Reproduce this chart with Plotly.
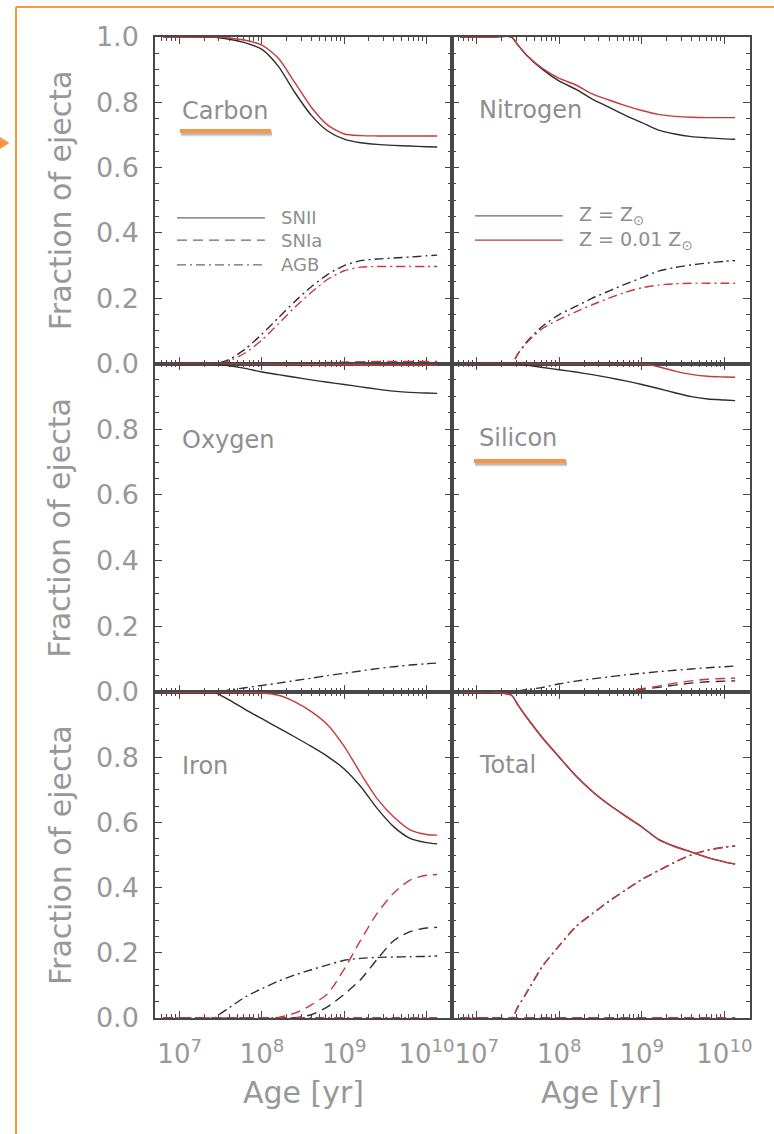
import math
import plotly.graph_objects as go

W, H = 774, 1134

# log10 of stellar population age [yr]
LOG_AGE = [6.8, 7.0, 7.2, 7.42, 7.5, 7.6, 7.8, 8.0, 8.2, 8.4, 8.6, 8.8,
           9.0, 9.2, 9.4, 9.6, 9.8, 10.0, 10.13]

# Fraction of ejecta per channel; "solar" = Z = Zsun, "low" = Z = 0.01 Zsun
carbon_snii_solar = [1.0, 1.0, 1.0, 0.999, 0.997, 0.993, 0.982, 0.962, 0.91, 0.83, 0.76, 0.712, 0.687, 0.676, 0.671, 0.668, 0.666, 0.664, 0.663]
carbon_snii_low = [1.0, 1.0, 1.0, 1.0, 0.999, 0.997, 0.99, 0.975, 0.935, 0.86, 0.785, 0.73, 0.703, 0.698, 0.697, 0.697, 0.697, 0.697, 0.697]
carbon_agb_solar = [0.0, 0.0, 0.0, 0.0, 0.003, 0.012, 0.045, 0.09, 0.14, 0.19, 0.235, 0.273, 0.3, 0.315, 0.32, 0.323, 0.326, 0.33, 0.332]
carbon_agb_low = [0.0, 0.0, 0.0, 0.0, 0.0, 0.008, 0.033, 0.072, 0.122, 0.172, 0.218, 0.258, 0.284, 0.295, 0.297, 0.297, 0.297, 0.297, 0.297]
carbon_snia_solar = [0.0, 0.0, 0.0, 0.0, 0.0, 0.0, 0.0, 0.0, 0.0, 0.0, 0.001, 0.002, 0.003, 0.004, 0.004, 0.005, 0.005, 0.005, 0.005]
carbon_snia_low = [0.0, 0.0, 0.0, 0.0, 0.0, 0.0, 0.0, 0.0, 0.0, 0.001, 0.002, 0.003, 0.004, 0.005, 0.006, 0.006, 0.006, 0.006, 0.006]

nitrogen_snii_solar = [1.0, 1.0, 1.0, 1.0, 0.975, 0.945, 0.9, 0.865, 0.84, 0.81, 0.785, 0.76, 0.738, 0.715, 0.703, 0.695, 0.691, 0.688, 0.687]
nitrogen_snii_low = [1.0, 1.0, 1.0, 1.0, 0.975, 0.946, 0.903, 0.873, 0.853, 0.826, 0.807, 0.79, 0.775, 0.763, 0.757, 0.754, 0.753, 0.753, 0.753]
nitrogen_agb_solar = [0.0, 0.0, 0.0, 0.0, 0.03, 0.065, 0.115, 0.15, 0.175, 0.2, 0.222, 0.243, 0.263, 0.283, 0.294, 0.302, 0.308, 0.313, 0.315]
nitrogen_agb_low = [0.0, 0.0, 0.0, 0.0, 0.03, 0.062, 0.108, 0.135, 0.158, 0.18, 0.2, 0.218, 0.232, 0.24, 0.244, 0.246, 0.246, 0.246, 0.246]
nitrogen_snia_solar = [0.0, 0.0, 0.0, 0.0, 0.0, 0.0, 0.0, 0.0, 0.0, 0.0, 0.0, 0.0, 0.001, 0.001, 0.001, 0.001, 0.001, 0.001, 0.001]
nitrogen_snia_low = [0.0, 0.0, 0.0, 0.0, 0.0, 0.0, 0.0, 0.0, 0.0, 0.0, 0.0, 0.001, 0.001, 0.001, 0.001, 0.001, 0.001, 0.001, 0.001]

oxygen_snii_solar = [1.0, 1.0, 1.0, 1.0, 0.997, 0.993, 0.985, 0.974, 0.966, 0.958, 0.95, 0.943, 0.936, 0.929, 0.922, 0.916, 0.912, 0.91, 0.909]
oxygen_snii_low = [1.0, 1.0, 1.0, 1.0, 1.0, 1.0, 0.999, 0.999, 0.998, 0.998, 0.997, 0.997, 0.996, 0.996, 0.995, 0.995, 0.995, 0.995, 0.995]
oxygen_agb_solar = [0.0, 0.0, 0.0, 0.0, 0.002, 0.006, 0.013, 0.02, 0.027, 0.035, 0.042, 0.05, 0.057, 0.064, 0.071, 0.077, 0.082, 0.086, 0.088]
oxygen_agb_low = [0.0, 0.0, 0.0, 0.0, 0.0, 0.001, 0.001, 0.001, 0.002, 0.002, 0.002, 0.002, 0.002, 0.002, 0.002, 0.002, 0.002, 0.002, 0.002]
oxygen_snia_solar = [0.0, 0.0, 0.0, 0.0, 0.0, 0.0, 0.0, 0.0, 0.0, 0.0, 0.0, 0.001, 0.001, 0.002, 0.002, 0.003, 0.003, 0.003, 0.003]
oxygen_snia_low = [0.0, 0.0, 0.0, 0.0, 0.0, 0.0, 0.0, 0.0, 0.0, 0.0, 0.001, 0.001, 0.002, 0.002, 0.003, 0.003, 0.003, 0.003, 0.003]

silicon_snii_solar = [1.0, 1.0, 1.0, 1.0, 0.998, 0.995, 0.988, 0.981, 0.974, 0.966, 0.957, 0.947, 0.936, 0.924, 0.911, 0.899, 0.892, 0.889, 0.887]
silicon_snii_low = [1.0, 1.0, 1.0, 1.0, 1.0, 1.0, 1.0, 1.0, 1.0, 1.0, 1.0, 1.0, 0.999, 0.99, 0.977, 0.967, 0.961, 0.959, 0.958]
silicon_agb_solar = [0.0, 0.0, 0.0, 0.0, 0.003, 0.007, 0.014, 0.025, 0.033, 0.04, 0.046, 0.052, 0.057, 0.062, 0.066, 0.07, 0.074, 0.077, 0.079]
silicon_agb_low = [0.0, 0.0, 0.0, 0.0, 0.0, 0.0, 0.0, 0.0, 0.001, 0.001, 0.001, 0.001, 0.001, 0.001, 0.001, 0.001, 0.001, 0.001, 0.001]
silicon_snia_solar = [0.0, 0.0, 0.0, 0.0, 0.0, 0.0, 0.0, 0.0, 0.0, 0.0, 0.0, 0.003, 0.008, 0.014, 0.021, 0.027, 0.031, 0.033, 0.034]
silicon_snia_low = [0.0, 0.0, 0.0, 0.0, 0.0, 0.0, 0.0, 0.0, 0.0, 0.0, 0.0, 0.003, 0.01, 0.018, 0.027, 0.034, 0.039, 0.041, 0.042]

iron_snii_solar = [1.0, 1.0, 1.0, 1.0, 0.99, 0.976, 0.946, 0.918, 0.89, 0.862, 0.833, 0.802, 0.764, 0.71, 0.643, 0.587, 0.551, 0.538, 0.534]
iron_snii_low = [1.0, 1.0, 1.0, 1.0, 1.0, 1.0, 0.999, 0.997, 0.99, 0.97, 0.94, 0.899, 0.833, 0.75, 0.673, 0.617, 0.577, 0.563, 0.561]
iron_agb_solar = [0.0, 0.0, 0.0, 0.0, 0.014, 0.031, 0.065, 0.09, 0.113, 0.132, 0.148, 0.163, 0.177, 0.183, 0.186, 0.187, 0.188, 0.189, 0.19]
iron_agb_low = [0.0, 0.0, 0.0, 0.0, 0.0, 0.0, 0.001, 0.001, 0.001, 0.001, 0.001, 0.001, 0.001, 0.001, 0.001, 0.001, 0.001, 0.001, 0.001]
iron_snia_solar = [0.0, 0.0, 0.0, 0.0, 0.0, 0.0, 0.0, 0.0, 0.0, 0.001, 0.01, 0.035, 0.073, 0.118, 0.18, 0.237, 0.265, 0.276, 0.278]
iron_snia_low = [0.0, 0.0, 0.0, 0.0, 0.0, 0.0, 0.0, 0.0, 0.002, 0.015, 0.04, 0.075, 0.15, 0.239, 0.321, 0.383, 0.423, 0.438, 0.44]

total_snii_solar = [1.0, 1.0, 1.0, 0.99, 0.96, 0.924, 0.858, 0.8, 0.743, 0.695, 0.655, 0.62, 0.586, 0.548, 0.526, 0.509, 0.492, 0.479, 0.472]
total_snii_low = [1.0, 1.0, 1.0, 0.99, 0.96, 0.924, 0.858, 0.8, 0.743, 0.695, 0.655, 0.62, 0.586, 0.548, 0.526, 0.509, 0.492, 0.479, 0.472]
total_agb_solar = [0.0, 0.0, 0.0, 0.0, 0.035, 0.076, 0.16, 0.222, 0.28, 0.32, 0.358, 0.392, 0.425, 0.452, 0.478, 0.5, 0.515, 0.524, 0.528]
total_agb_low = [0.0, 0.0, 0.0, 0.0, 0.035, 0.076, 0.16, 0.222, 0.28, 0.32, 0.358, 0.392, 0.425, 0.452, 0.478, 0.5, 0.515, 0.524, 0.528]
total_snia_solar = [0.0, 0.0, 0.0, 0.0, 0.0, 0.0, 0.0, 0.0, 0.0, 0.0, 0.0, 0.0, 0.0, 0.0, 0.001, 0.001, 0.001, 0.001, 0.001]
total_snia_low = [0.0, 0.0, 0.0, 0.0, 0.0, 0.0, 0.0, 0.0, 0.0, 0.0, 0.0, 0.0, 0.0, 0.001, 0.001, 0.001, 0.001, 0.001, 0.001]

ELEMENTS = ["Carbon", "Nitrogen", "Oxygen", "Silicon", "Iron", "Total"]
CHANNELS = ["SNII", "SNIa", "AGB"]
METALLICITIES = ["solar", "low"]

X_TICKS = [1e7, 1e8, 1e9, 1e10]
X_TICK_TEXT = ["10<sup>7</sup>", "10<sup>8</sup>", "10<sup>9</sup>", "10<sup>10</sup>"]
Y_TICKS = [0.0, 0.2, 0.4, 0.6, 0.8, 1.0]
Y_TICK_TEXT_TOP = ["0.0", "0.2", "0.4", "0.6", "0.8", "1.0"]
Y_TICK_TEXT_LOWER = ["0.0", "0.2", "0.4", "0.6", "0.8", " "]

DATA = {
    ("Carbon", "SNII", "solar"): carbon_snii_solar, ("Carbon", "SNII", "low"): carbon_snii_low,
    ("Carbon", "AGB", "solar"): carbon_agb_solar, ("Carbon", "AGB", "low"): carbon_agb_low,
    ("Carbon", "SNIa", "solar"): carbon_snia_solar, ("Carbon", "SNIa", "low"): carbon_snia_low,
    ("Nitrogen", "SNII", "solar"): nitrogen_snii_solar, ("Nitrogen", "SNII", "low"): nitrogen_snii_low,
    ("Nitrogen", "AGB", "solar"): nitrogen_agb_solar, ("Nitrogen", "AGB", "low"): nitrogen_agb_low,
    ("Nitrogen", "SNIa", "solar"): nitrogen_snia_solar, ("Nitrogen", "SNIa", "low"): nitrogen_snia_low,
    ("Oxygen", "SNII", "solar"): oxygen_snii_solar, ("Oxygen", "SNII", "low"): oxygen_snii_low,
    ("Oxygen", "AGB", "solar"): oxygen_agb_solar, ("Oxygen", "AGB", "low"): oxygen_agb_low,
    ("Oxygen", "SNIa", "solar"): oxygen_snia_solar, ("Oxygen", "SNIa", "low"): oxygen_snia_low,
    ("Silicon", "SNII", "solar"): silicon_snii_solar, ("Silicon", "SNII", "low"): silicon_snii_low,
    ("Silicon", "AGB", "solar"): silicon_agb_solar, ("Silicon", "AGB", "low"): silicon_agb_low,
    ("Silicon", "SNIa", "solar"): silicon_snia_solar, ("Silicon", "SNIa", "low"): silicon_snia_low,
    ("Iron", "SNII", "solar"): iron_snii_solar, ("Iron", "SNII", "low"): iron_snii_low,
    ("Iron", "AGB", "solar"): iron_agb_solar, ("Iron", "AGB", "low"): iron_agb_low,
    ("Iron", "SNIa", "solar"): iron_snia_solar, ("Iron", "SNIa", "low"): iron_snia_low,
    ("Total", "SNII", "solar"): total_snii_solar, ("Total", "SNII", "low"): total_snii_low,
    ("Total", "AGB", "solar"): total_agb_solar, ("Total", "AGB", "low"): total_agb_low,
    ("Total", "SNIa", "solar"): total_snia_solar, ("Total", "SNIa", "low"): total_snia_low,
}

# ---- styling ----
FONT = "DejaVu Sans"
GRAY_TEXT = "#989898"
LABEL_GRAY = "#8e8e8e"
AXIS_COLOR = "#474747"
ORANGE = "#f79646"
LINE_COLOR = {"solar": "#2e2e2e", "low": "#c8393a"}
DASH = {"SNII": "solid", "SNIa": "10px,6px", "AGB": "9px,4px,2px,4px"}

COL_PX = [(155, 452), (452, 750)]
ROW_PX = [(37, 363.5), (363.5, 692), (692, 1018)]
X_RANGE = [6.70, 10.31]


def fx(px):
    return px / W


def fy(py):
    return 1 - py / H


MINOR_X = [m * 10 ** d for d in range(6, 11) for m in range(2, 10)
           if X_RANGE[0] < d + math.log10(m) < X_RANGE[1]]

age = [10 ** v for v in LOG_AGE]

fig = go.Figure()
layout = dict(
    width=W, height=H, autosize=False,
    margin=dict(l=0, r=0, t=0, b=0, pad=0, autoexpand=False),
    paper_bgcolor="white", plot_bgcolor="white", showlegend=False,
    font=dict(family=FONT, color=GRAY_TEXT),
)

for i, elem in enumerate(ELEMENTS):
    row, col = divmod(i, 2)
    n = i + 1
    xs = "" if n == 1 else str(n)
    x0, x1 = COL_PX[col]
    ytop, ybot = ROW_PX[row]
    layout["xaxis" + xs] = dict(
        domain=[fx(x0), fx(x1)], anchor="y" + xs, type="log", range=X_RANGE,
        tickmode="array", tickvals=X_TICKS, ticktext=X_TICK_TEXT, automargin=False,
        showticklabels=(row == 2), ticks="inside", ticklen=7, tickwidth=1.2,
        tickcolor=AXIS_COLOR, mirror="allticks", showline=True, linecolor=AXIS_COLOR,
        linewidth=1.5, showgrid=False, zeroline=False, layer="below traces",
        tickfont=dict(size=26, color=GRAY_TEXT, family=FONT),
        ticklabelstandoff=12,
        minor=dict(tickmode="array", tickvals=MINOR_X, ticks="inside", ticklen=4,
                   tickwidth=1, tickcolor=AXIS_COLOR, showgrid=False),
    )
    layout["yaxis" + xs] = dict(
        domain=[fy(ybot), fy(ytop)], anchor="x" + xs, range=[0, 1], automargin=False,
        tickmode="array", tickvals=Y_TICKS,
        ticktext=Y_TICK_TEXT_TOP if row == 0 else Y_TICK_TEXT_LOWER,
        showticklabels=(col == 0), ticks="inside", ticklen=7, tickwidth=1.2,
        tickcolor=AXIS_COLOR, mirror="allticks", showline=True, linecolor=AXIS_COLOR,
        linewidth=1.5, showgrid=False, zeroline=False, layer="below traces",
        tickfont=dict(size=27, color=GRAY_TEXT, family=FONT),
        ticklabelstandoff=9,
        minor=dict(dtick=0.05, ticks="inside", ticklen=4, tickwidth=1,
                   tickcolor=AXIS_COLOR, showgrid=False),
    )
    for z in METALLICITIES:
        for ch in CHANNELS:
            fig.add_trace(go.Scatter(
                x=age, y=DATA[(elem, ch, z)], mode="lines",
                xaxis="x" + xs, yaxis="y" + xs,
                line=dict(color=LINE_COLOR[z], width=1.4, dash=DASH[ch],
                          shape="spline", smoothing=0.7),
                hoverinfo="skip",
            ))

annotations = []
shapes = []

# element labels
LABEL_POS = {"Carbon": (180, 111), "Nitrogen": (477, 110), "Oxygen": (180, 440),
             "Silicon": (477, 438), "Iron": (180, 766), "Total": (477, 765)}
for elem, (lx, ly) in LABEL_POS.items():
    annotations.append(dict(
        text=elem, x=fx(lx), y=fy(ly), xref="paper", yref="paper",
        xanchor="left", yanchor="middle", showarrow=False,
        font=dict(size=24, color=LABEL_GRAY, family=FONT),
    ))

# axis titles
for row in range(3):
    ytop, ybot = ROW_PX[row]
    annotations.append(dict(
        text="Fraction of ejecta", x=fx(60), y=fy((ytop + ybot) / 2),
        xref="paper", yref="paper", textangle=-90, showarrow=False,
        xanchor="center", yanchor="middle",
        font=dict(size=30, color=GRAY_TEXT, family=FONT),
    ))
for col in range(2):
    x0, x1 = COL_PX[col]
    annotations.append(dict(
        text="Age [yr]", x=fx((x0 + x1) / 2), y=fy(1092), xref="paper", yref="paper",
        showarrow=False, xanchor="center", yanchor="middle",
        font=dict(size=30, color=GRAY_TEXT, family=FONT),
    ))

# channel key (Carbon panel)
for ch, yd in zip(CHANNELS, [0.446, 0.378, 0.302]):
    shapes.append(dict(type="line", xref="x domain", yref="y domain",
                       x0=0.074, x1=0.37, y0=yd, y1=yd,
                       line=dict(color="#6a6a6a", width=1.4, dash=DASH[ch])))
    annotations.append(dict(text=ch, xref="x domain", yref="y domain", x=0.418, y=yd,
                            xanchor="left", yanchor="middle", showarrow=False,
                            font=dict(size=18, color=LABEL_GRAY, family=FONT)))

# metallicity key (Nitrogen panel)
for z, yd, txt in zip(METALLICITIES, [0.452, 0.378],
                      ["Z = Z<sub>⊙</sub>", "Z = 0.01 Z<sub>⊙</sub>"]):
    shapes.append(dict(type="line", xref="x2 domain", yref="y2 domain",
                       x0=0.077, x1=0.372, y0=yd, y1=yd,
                       line=dict(color="#6a6a6a" if z == "solar" else LINE_COLOR[z], width=1.4)))
    annotations.append(dict(text=txt, xref="x2 domain", yref="y2 domain", x=0.42, y=yd,
                            xanchor="left", yanchor="middle", showarrow=False,
                            font=dict(size=19, color=LABEL_GRAY, family=FONT)))

# orange highlight underlines with soft shadow
for (ux0, ux1, uy) in [(180, 271, 131), (474, 566, 461)]:
    for off, alpha in [(4, 0.06), (3, 0.1), (2, 0.14)]:
        shapes.append(dict(type="rect", xref="paper", yref="paper",
                           x0=fx(ux0 + 1), x1=fx(ux1 + 1), y0=fy(uy + 2 + off), y1=fy(uy - 2 + off),
                           fillcolor=f"rgba(0,0,0,{alpha})", line=dict(width=0), layer="above"))
    shapes.append(dict(type="rect", xref="paper", yref="paper",
                       x0=fx(ux0), x1=fx(ux1), y0=fy(uy + 2), y1=fy(uy - 2),
                       fillcolor=ORANGE, line=dict(width=0), layer="above"))

# frame edges (left and top)
shapes.append(dict(type="line", xref="paper", yref="paper",
                   x0=fx(16), x1=fx(16), y0=0, y1=fy(7),
                   line=dict(color=ORANGE, width=2), layer="above"))
shapes.append(dict(type="line", xref="paper", yref="paper",
                   x0=fx(16), x1=1, y0=fy(7), y1=fy(7),
                   line=dict(color=ORANGE, width=2), layer="above"))

# pointer arrow at left edge
shapes.append(dict(type="path", xref="paper", yref="paper",
                   path=f"M {fx(0)} {fy(137)} L {fx(9.5)} {fy(143)} L {fx(0)} {fy(149)} Z",
                   fillcolor=ORANGE, line=dict(width=0), layer="above"))

layout["annotations"] = annotations
layout["shapes"] = shapes
fig.update_layout(**layout)

fig.write_html("out.html")
